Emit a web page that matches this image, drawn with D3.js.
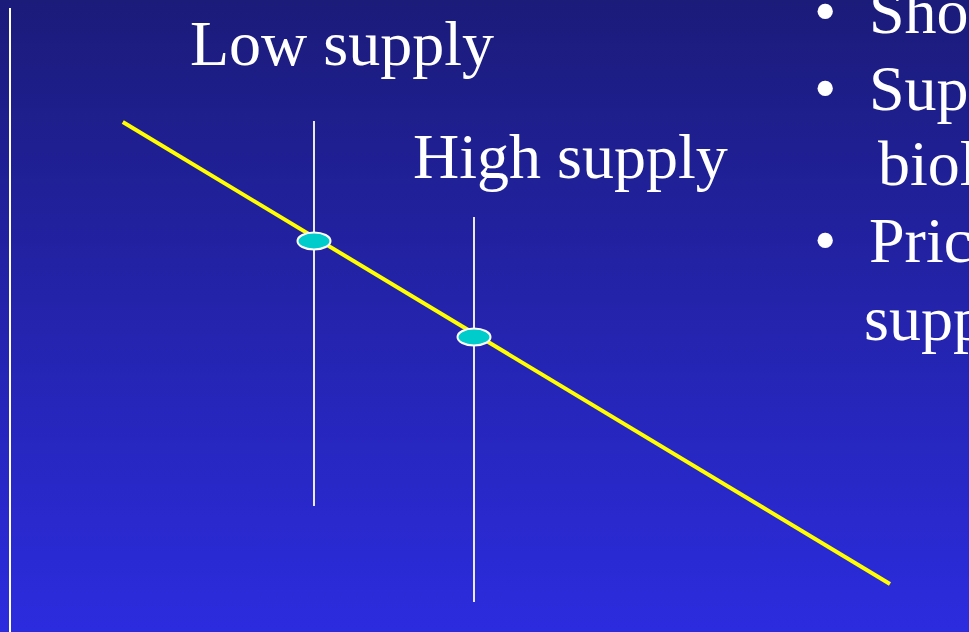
<!DOCTYPE html>
<html>
<head>
<meta charset="utf-8">
<script src="https://cdn.jsdelivr.net/npm/d3@7"></script>
<style>
  html, body { margin: 0; padding: 0; overflow: hidden; }
  svg { display: block; }
</style>
</head>
<body>
<div id="chart"></div>
<script>
const width = 969
const height = 632

// quantity / price readings
const demand = [{ q: 1.41, p: 10.2 }, { q: 11.0, p: 0.96 }]
const supplyLines = [
  { name: 'Low supply', q: 3.8, pLow: 2.52, pHigh: 10.22 },
  { name: 'High supply', q: 5.8, pLow: 0.6, pHigh: 8.3 }
]
const equilibria = [{ q: 3.8, p: 7.82 }, { q: 5.8, p: 5.9 }]
const axisTop = 12.48

const bullets = [
  { bullet: true, text: 'Short run' },
  { bullet: true, text: 'Supply determined by' },
  { bullet: false, text: 'biology' },
  { bullet: true, text: 'Price determined by' },
  { bullet: false, text: 'supply' }
]

const x = d3.scaleLinear().domain([0, 12]).range([10, 970])
const y = d3.scaleLinear().domain([0, 12.64]).range([632, 0])

const svg = d3.select('#chart').append('svg')
  .attr('width', width)
  .attr('height', height)

// slide background
const grad = svg.append('defs').append('linearGradient')
  .attr('id', 'bg')
  .attr('x1', 0).attr('y1', 0).attr('x2', 0).attr('y2', 1)
grad.append('stop').attr('offset', '0%').attr('stop-color', '#1b1b7a')
grad.append('stop').attr('offset', '100%').attr('stop-color', '#2c2cdf')

svg.append('rect')
  .attr('width', width)
  .attr('height', height)
  .attr('fill', 'url(#bg)')

// price axis
svg.append('line')
  .attr('x1', x(0)).attr('x2', x(0))
  .attr('y1', y(0)).attr('y2', y(axisTop))
  .attr('stroke', 'white')
  .attr('stroke-width', 2)

// vertical supply lines
svg.selectAll('.supply')
  .data(supplyLines)
  .enter().append('line')
  .attr('class', 'supply')
  .attr('x1', d => x(d.q)).attr('x2', d => x(d.q))
  .attr('y1', d => y(d.pLow)).attr('y2', d => y(d.pHigh))
  .attr('stroke', 'white')
  .attr('stroke-width', 1.8)

// demand curve
const demandLine = d3.line()
  .x(d => x(d.q))
  .y(d => y(d.p))

svg.append('path')
  .datum(demand)
  .attr('d', demandLine)
  .attr('fill', 'none')
  .attr('stroke', '#ffff00')
  .attr('stroke-width', 4)

// equilibrium points
svg.selectAll('.eq')
  .data(equilibria)
  .enter().append('ellipse')
  .attr('class', 'eq')
  .attr('cx', d => x(d.q))
  .attr('cy', d => y(d.p))
  .attr('rx', 16.5)
  .attr('ry', 8.5)
  .attr('fill', '#00cccc')
  .attr('stroke', 'white')
  .attr('stroke-width', 2)

// supply labels
const labelPos = [{ x: 190, y: 65 }, { x: 413, y: 178 }]
svg.selectAll('.label')
  .data(supplyLines)
  .enter().append('text')
  .attr('class', 'label')
  .attr('x', (d, i) => labelPos[i].x)
  .attr('y', (d, i) => labelPos[i].y)
  .attr('fill', 'white')
  .style('font-family', '"Liberation Serif", "Times New Roman", serif')
  .style('font-size', '64px')
  .text(d => d.name)

// bullet list on the right, cut off by the slide edge
const bulletY = [33, 110, 185, 262, 340]
const list = svg.append('g')
  .style('font-family', '"Liberation Serif", "Times New Roman", serif')
  .style('font-size', '64px')
  .attr('fill', 'white')

list.selectAll('.dot')
  .data(bullets.filter(d => d.bullet))
  .enter().append('text')
  .attr('class', 'dot')
  .attr('x', 814)
  .attr('y', d => bulletY[bullets.indexOf(d)])
  .text('•')

list.selectAll('.item')
  .data(bullets)
  .enter().append('text')
  .attr('class', 'item')
  .attr('x', (d, i) => d.bullet ? 869 : (i === 2 ? 878 : 864))
  .attr('y', (d, i) => bulletY[i])
  .text(d => d.text)
</script>
</body>
</html>
